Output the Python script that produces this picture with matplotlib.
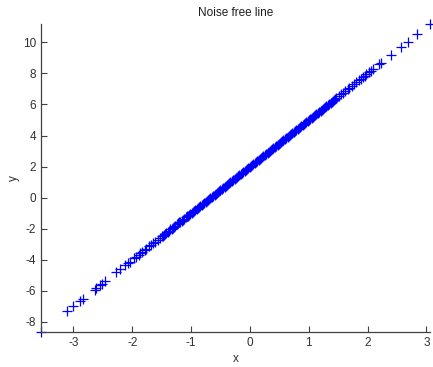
import matplotlib
matplotlib.use("Agg")
import matplotlib.pyplot as plt

# sample points lying on the noise free line
x = [-3.55, -3.11, -3.00, -2.89, -2.84, -2.64, -2.61, -2.54, -2.51, -2.46,
     -2.27, -2.20, -2.12, -2.08, -2.04, -1.97, -1.93, -1.89, -1.86, -1.83,
     -1.79, -1.76, -1.71, -1.68, -1.64, -1.61, -1.57, -1.53, -1.50, -1.46,
     -1.42, -1.38, -1.35, -1.31, -1.27, -1.24, -1.20, -1.16, -1.12, -1.09,
     -1.05, -1.01, -0.97, -0.93, -0.90, -0.86, -0.82, -0.78, -0.75, -0.71,
     -0.67, -0.63, -0.60, -0.56, -0.52, -0.48, -0.45, -0.41, -0.37, -0.33,
     -0.30, -0.26, -0.22, -0.18, -0.15, -0.11, -0.07, -0.03, 0.00, 0.04,
     0.08, 0.12, 0.15, 0.19, 0.23, 0.27, 0.30, 0.34, 0.38, 0.42,
     0.45, 0.49, 0.53, 0.57, 0.60, 0.64, 0.68, 0.72, 0.75, 0.79,
     0.83, 0.87, 0.90, 0.94, 0.98, 1.02, 1.05, 1.09, 1.13, 1.17,
     1.20, 1.24, 1.28, 1.32, 1.35, 1.39, 1.43, 1.47, 1.51, 1.55,
     1.58, 1.62, 1.66, 1.69, 1.73, 1.77, 1.81, 1.85, 1.88, 1.92,
     1.95, 1.98, 2.02, 2.05, 2.09, 2.20, 2.22, 2.40, 2.56, 2.68,
     2.84, 3.06]
y = [-8.65, -7.33, -7.00, -6.67, -6.52, -5.92, -5.83, -5.62, -5.53, -5.38,
     -4.81, -4.60, -4.36, -4.24, -4.12, -3.91, -3.79, -3.67, -3.58, -3.49,
     -3.37, -3.28, -3.13, -3.04, -2.92, -2.83, -2.71, -2.59, -2.50, -2.38,
     -2.26, -2.14, -2.05, -1.93, -1.81, -1.72, -1.60, -1.48, -1.36, -1.27,
     -1.15, -1.03, -0.91, -0.79, -0.70, -0.58, -0.46, -0.34, -0.25, -0.13,
     -0.01, 0.11, 0.20, 0.32, 0.44, 0.56, 0.65, 0.77, 0.89, 1.01,
     1.10, 1.22, 1.34, 1.46, 1.55, 1.67, 1.79, 1.91, 2.00, 2.12,
     2.24, 2.36, 2.45, 2.57, 2.69, 2.81, 2.90, 3.02, 3.14, 3.26,
     3.35, 3.47, 3.59, 3.71, 3.80, 3.92, 4.04, 4.16, 4.25, 4.37,
     4.49, 4.61, 4.70, 4.82, 4.94, 5.06, 5.15, 5.27, 5.39, 5.51,
     5.60, 5.72, 5.84, 5.96, 6.05, 6.17, 6.29, 6.41, 6.53, 6.65,
     6.74, 6.86, 6.98, 7.07, 7.19, 7.31, 7.43, 7.55, 7.64, 7.76,
     7.85, 7.94, 8.06, 8.15, 8.27, 8.60, 8.66, 9.20, 9.68, 10.04,
     10.52, 11.18]

# extra samples where the points crowd together near the centre
x_dense = [-1.48, -1.44, -1.40, -1.33, -1.29, -1.22, -1.18, -1.14, -1.07, -1.03,
           -0.99, -0.95, -0.88, -0.84, -0.80, -0.73, -0.69, -0.65, -0.58, -0.54,
           -0.50, -0.43, -0.39, -0.35, -0.28, -0.24, -0.20, -0.13, -0.09, -0.05,
           0.02, 0.06, 0.10, 0.17, 0.21, 0.25, 0.32, 0.36, 0.40, 0.47,
           0.51, 0.55, 0.62, 0.66, 0.70, 0.77, 0.81, 0.85, 0.92, 0.96,
           1.00, 1.07, 1.11, 1.15, 1.22, 1.26, 1.30, 1.37, 1.41, 1.45]
y_dense = [-2.44, -2.32, -2.20, -1.99, -1.87, -1.66, -1.54, -1.42, -1.21, -1.09,
           -0.97, -0.85, -0.64, -0.52, -0.40, -0.19, -0.07, 0.05, 0.26, 0.38,
           0.50, 0.71, 0.83, 0.95, 1.16, 1.28, 1.40, 1.61, 1.73, 1.85,
           2.06, 2.18, 2.30, 2.51, 2.63, 2.75, 2.96, 3.08, 3.20, 3.41,
           3.53, 3.65, 3.86, 3.98, 4.10, 4.31, 4.43, 4.55, 4.76, 4.88,
           5.00, 5.21, 5.33, 5.45, 5.66, 5.78, 5.90, 6.11, 6.23, 6.35]

xticks = [-3, -2, -1, 0, 1, 2, 3]
yticks = [-8, -6, -4, -2, 0, 2, 4, 6, 8, 10]

plt.rcParams['font.family'] = ['Liberation Sans', 'DejaVu Sans']
plt.rcParams['axes.unicode_minus'] = False
grey = '#404040'

all_x = x + x_dense
all_y = y + y_dense

fig = plt.figure(figsize=(4.33, 3.67), dpi=100)
ax = fig.add_axes([0.0947, 0.0954, 0.8983, 0.8392])
ax.plot(all_x, all_y, linestyle='none', marker='+', color='blue',
        markersize=6.5, markeredgewidth=0.9, clip_on=False)

ax.set_xlim(min(x), max(x))
ax.set_ylim(min(y), max(y))
ax.set_xticks(xticks)
ax.set_yticks(yticks)
ax.tick_params(direction='in', length=4, width=0.8, colors=grey,
               labelsize=8.5, labelcolor='#303030')
for side in ['top', 'right']:
    ax.spines[side].set_visible(False)
for side in ['left', 'bottom']:
    ax.spines[side].set_color(grey)
    ax.spines[side].set_linewidth(0.9)

ax.set_title('Noise free line', fontsize=8.5, color='#202020', pad=6)
ax.set_xlabel('x', fontsize=8.5, color='#303030', labelpad=3)
ax.set_ylabel('y', fontsize=8.5, color='#303030', labelpad=2)

fig.savefig('out.png', dpi=100)
